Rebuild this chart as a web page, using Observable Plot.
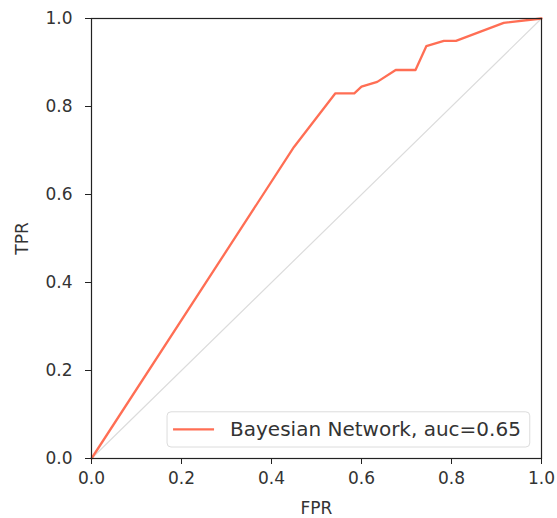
<!DOCTYPE html>
<html>
<head>
<meta charset="utf-8">
<script src="https://cdn.jsdelivr.net/npm/d3@7"></script>
<script src="https://cdn.jsdelivr.net/npm/@observablehq/plot@0.6"></script>
<style>
  html, body { margin: 0; padding: 0; background: white; }
</style>
</head>
<body>
<div id="chart"></div>
<script>
// ROC curve points
const fpr = [0, 0.45, 0.542, 0.584, 0.60, 0.635, 0.676, 0.72, 0.744, 0.783, 0.81, 0.916, 1];
const tpr = [0, 0.708, 0.83, 0.83, 0.845, 0.856, 0.883, 0.883, 0.937, 0.949, 0.949, 0.99, 1];
const diag = [0, 1];
const ticks = [0, 0.2, 0.4, 0.6, 0.8, 1.0];
const seriesLabel = "Bayesian Network, auc=0.65";
const xLabel = "FPR";
const yLabel = "TPR";

const roc = fpr.map((x, i) => ({fpr: x, tpr: tpr[i]}));
const diagData = diag.map(v => ({fpr: v, tpr: v}));
const lineColor = "#ff6e54";

const fmt = d3.format(".1f");
const plot = Plot.plot({
  width: 557,
  height: 518,
  marginLeft: 91,
  marginRight: 16,
  marginTop: 18,
  marginBottom: 60,
  style: {fontFamily: "DejaVu Sans", fontSize: "17px", color: "#333", background: "white"},
  x: {domain: [0, 1]},
  y: {domain: [0, 1]},
  marks: [
    Plot.line(diagData, {x: "fpr", y: "tpr", stroke: "#dcdcdc", strokeWidth: 1.2}),
    Plot.line(roc, {x: "fpr", y: "tpr", stroke: lineColor, strokeWidth: 2.3}),
    Plot.frame({stroke: "#222", strokeWidth: 1.2}),
    Plot.axisX({ticks, tickFormat: fmt, tickSize: 6, tickPadding: 7, label: null, stroke: "#222"}),
    Plot.axisY({ticks, tickFormat: fmt, tickSize: 6, tickPadding: 13, label: null, stroke: "#222"}),
    Plot.text([xLabel], {text: d => d, frameAnchor: "bottom", lineAnchor: "middle", textAnchor: "middle", dy: 50, fill: "#333"}),
    Plot.text([yLabel], {text: d => d, frameAnchor: "left", textAnchor: "middle", lineAnchor: "middle", dx: -69, rotate: -90, fill: "#333"})
  ]
});

// legend in lower right of the frame
const sx = plot.scale("x"), sy = plot.scale("y");
const svg = d3.select(plot);
const lx0 = sx.apply(0.169), lx1 = sx.apply(0.975);
const ly0 = sy.apply(0.105), ly1 = sy.apply(0.025);
const g = svg.append("g").attr("text-anchor", "start");
g.append("rect")
  .attr("x", lx0).attr("y", ly0)
  .attr("width", lx1 - lx0).attr("height", ly1 - ly0)
  .attr("rx", 4).attr("fill", "white").attr("fill-opacity", 0.85)
  .attr("stroke", "#dcdcdc").attr("stroke-width", 1);
const cy = (ly0 + ly1) / 2;
g.append("line")
  .attr("x1", lx0 + 6).attr("x2", lx0 + 47)
  .attr("y1", cy).attr("y2", cy)
  .attr("stroke", lineColor).attr("stroke-width", 2.3);
g.append("text")
  .attr("x", lx0 + 63).attr("y", cy).attr("dy", "0.35em")
  .attr("text-anchor", "start")
  .attr("fill", "#333").attr("font-family", "DejaVu Sans").attr("font-size", 20)
  .text(seriesLabel);

document.getElementById("chart").appendChild(plot);
</script>
</body>
</html>
